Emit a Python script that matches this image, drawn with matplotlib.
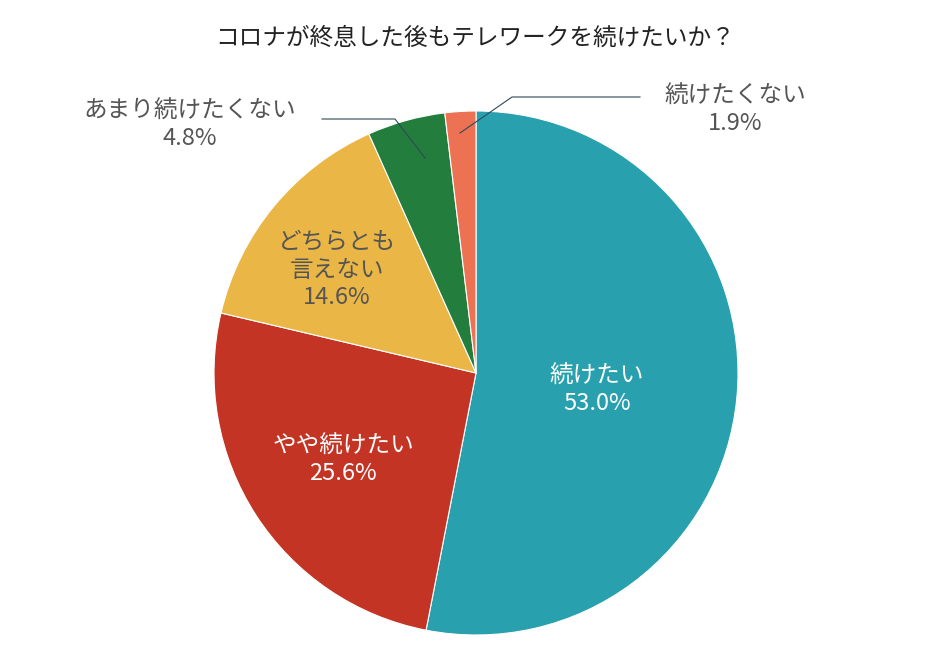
import matplotlib
matplotlib.use("Agg")
import matplotlib.pyplot as plt

plt.rcParams["font.family"] = "Noto Sans CJK JP"

categories = ["続けたい", "やや続けたい", "どちらとも\n言えない", "あまり続けたくない", "続けたくない"]
values = [53.0, 25.6, 14.6, 4.8, 1.9]
colors = ["#28a0ae", "#c43424", "#eab645", "#237d3c", "#ed7153"]

W, H = 950, 650
fig = plt.figure(figsize=(W/100, H/100), dpi=100)
cx, cy, r = 476, 373, 262
ax = fig.add_axes([(cx-r)/W, (H-cy-r)/H, 2*r/W, 2*r/H])
ax.pie(values, colors=colors, startangle=90, counterclock=False,
       wedgeprops=dict(edgecolor="white", linewidth=0.8))
ax.set_xlim(-1, 1)
ax.set_ylim(-1, 1)
ax.set_aspect("equal")

def fx(x): return x/W
def fy(y): return 1-y/H

fig.text(fx(475), fy(38), "コロナが終息した後もテレワークを続けたいか？", ha="center", va="center", fontsize=17, color="#222222")

inner = [(0, 597, 390, "white"), (1, 343, 460, "white"), (2, 337, 270, "#555555")]
for i, x, y, c in inner:
    fig.text(fx(x), fy(y), f"{categories[i]}\n{values[i]:.1f}%", ha="center", va="center",
             fontsize=17, color=c, linespacing=1.25)

fig.text(fx(190), fy(125), f"{categories[3]}\n{values[3]:.1f}%", ha="center", va="center",
         fontsize=17, color="#555555", linespacing=1.25)
fig.text(fx(735), fy(110), f"{categories[4]}\n{values[4]:.1f}%", ha="center", va="center",
         fontsize=17, color="#555555", linespacing=1.25)

lc = "#2d4a5a"
fig.add_artist(plt.Line2D([fx(322), fx(395), fx(425)], [fy(119), fy(119), fy(158)], transform=fig.transFigure, color=lc, lw=0.8))
fig.add_artist(plt.Line2D([fx(640), fx(512), fx(460)], [fy(97), fy(97), fy(133)], transform=fig.transFigure, color=lc, lw=0.8))

fig.savefig("out.png", dpi=100, facecolor="white")
